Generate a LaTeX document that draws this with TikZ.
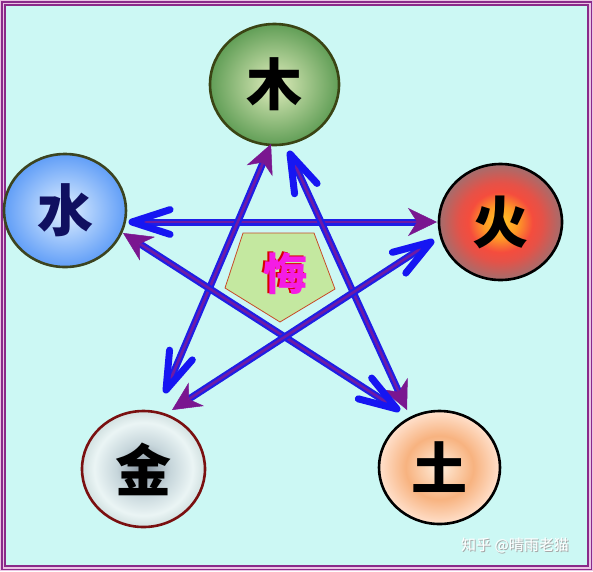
\documentclass[tikz,border=0pt]{standalone}
\usepackage{fontspec}
\newfontfamily\cjk{Noto Sans CJK SC}
\usetikzlibrary{shapes.geometric,arrows.meta,calc}
\definecolor{bgc}{HTML}{CCF8F4}
\definecolor{framep}{HTML}{8A2A8A}
\definecolor{framepink}{HTML}{EAC4E4}
\definecolor{lblue}{HTML}{1E1EE6}
\definecolor{lpurp}{HTML}{6E1AA6}
\definecolor{tpurp}{HTML}{7A1690}
\definecolor{cblue}{HTML}{1616F2}
\definecolor{pentfill}{HTML}{C4E8A0}
\definecolor{pentdraw}{HTML}{C84A28}
\definecolor{magc}{HTML}{F41CE4}
\definecolor{woodline}{HTML}{3A4414}
\definecolor{waterline}{HTML}{3C4420}
\definecolor{metalline}{HTML}{7A1010}
\definecolor{watertext}{HTML}{101060}
\pgfdeclareradialshading{woodsh}{\pgfpoint{0bp}{0bp}}{rgb(0bp)=(0.88,0.93,0.74);rgb(25bp)=(0.38,0.62,0.34);rgb(50bp)=(0.38,0.62,0.34)}
\pgfdeclareradialshading{firesh}{\pgfpoint{0bp}{0bp}}{rgb(0bp)=(1,0.78,0.15);rgb(7bp)=(1,0.6,0.15);rgb(13bp)=(0.96,0.3,0.24);rgb(17bp)=(0.9,0.32,0.28);rgb(25bp)=(0.64,0.43,0.43);rgb(50bp)=(0.64,0.43,0.43)}
\pgfdeclareradialshading{watersh}{\pgfpoint{0bp}{0bp}}{rgb(0bp)=(0.88,0.94,1);rgb(25bp)=(0.38,0.62,0.97);rgb(50bp)=(0.38,0.62,0.97)}
\pgfdeclareradialshading{metalsh}{\pgfpoint{0bp}{0bp}}{rgb(0bp)=(0.5,0.55,0.6);rgb(11bp)=(0.78,0.84,0.86);rgb(20bp)=(0.92,0.96,0.96);rgb(25bp)=(0.82,0.88,0.88);rgb(50bp)=(0.82,0.88,0.88)}
\pgfdeclareradialshading{earthsh}{\pgfpoint{0bp}{0bp}}{rgb(0bp)=(1,0.93,0.86);rgb(14bp)=(0.97,0.7,0.5);rgb(25bp)=(1,0.88,0.8);rgb(50bp)=(1,0.88,0.8)}
\tikzset{
  elem/.style={ellipse, inner sep=0pt, line width=2.6pt,
    font=\cjk\bfseries\fontsize{56}{56}\selectfont},
  bline/.style={draw=lblue, line width=7pt, shorten >=20pt},
  pline/.style={draw=lpurp, line width=2.6pt,
    -{Stealth[length=29pt,width=28pt,inset=9pt,line width=0.5pt,color=tpurp]}},
  chev/.style={draw=cblue, line width=7pt, line cap=round, line join=round},
  huifont/.style={font=\cjk\bfseries\fontsize{44}{44}\selectfont},
  wmfont/.style={font=\cjk\fontsize{15}{15}\selectfont},
}
\begin{document}
\begin{tikzpicture}[x=1pt,y=-1pt]
\useasboundingbox (0,0) rectangle (593,571);
% frame and background
\fill[framepink] (0,0) rectangle (593,571);
\draw[framep, line width=1.4pt] (1.8,1.8) rectangle (591.2,569.2);
\draw[framep, line width=1.4pt, fill=bgc] (5,5) rectangle (588,566);
% elements
\node[elem, draw=woodline, shading=woodsh, minimum width=129pt, minimum height=121pt] (wood) at (274.5,84.5) {木};
\node[elem, draw=black, shading=firesh, minimum width=123pt, minimum height=116pt] (fire) at (500.5,222) {火};
\node[elem, draw=waterline, shading=watersh, minimum width=122pt, minimum height=113pt, text=watertext] (water) at (65,210.5) {水};
\node[elem, draw=metalline, shading=metalsh, minimum width=123pt, minimum height=116pt] (metal) at (143.5,469) {金};
\node[elem, draw=black, shading=earthsh, minimum width=121pt, minimum height=113pt] (earth) at (439.5,467.5) {土};
% centre pentagon
\draw[fill=pentfill, draw=pentdraw, line width=0.8pt] (243,233) -- (314,233) -- (335,289) -- (280,322) -- (225,288) -- cycle;
\node[huifont, text=red!85!black] at (283.5,273) {悔};
\node[huifont, text=magc] (hui) at (285,274) {悔};
% connector end points
\coordinate (aP) at (132,222);   \coordinate (aQ) at (437,222);
\coordinate (bP) at (166,390);   \coordinate (bQ) at (271,144);
\coordinate (cP) at (290,154);   \coordinate (cQ) at (407,410);
\coordinate (dP) at (397,409);   \coordinate (dQ) at (123,233);
\coordinate (eP) at (431,242);   \coordinate (eQ) at (172,410);
% connectors
\foreach \c in {a,b,c,d,e}{
  \draw[bline] (\c P) -- (\c Q);
  \draw[pline] (\c P) -- (\c Q);
  \draw[chev] ($(\c P)!40pt!18:(\c Q)$) -- (\c P) -- ($(\c P)!40pt!-18:(\c Q)$);
}
% watermark
\node[wmfont, text=gray!70] at (516,546) {知乎 @晴雨老猫};
\node[wmfont, text=white] (wm) at (515,545) {知乎 @晴雨老猫};
\end{tikzpicture}
\end{document}
